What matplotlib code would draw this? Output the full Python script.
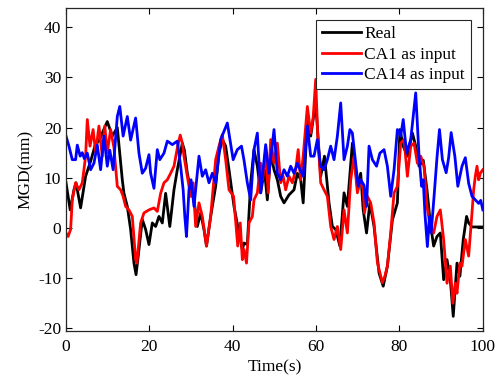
import matplotlib
matplotlib.use("Agg")
from matplotlib import pyplot as plt

plt.rcParams['font.family'] = ['Liberation Serif', 'DejaVu Serif']
plt.rcParams['font.size'] = 12
plt.rcParams['axes.unicode_minus'] = False

# Real
t_real = [0, 1.0, 1.9, 2.4, 3.5, 4.7, 5.9, 7.0, 8.0, 9.0, 9.9, 11.1, 12.3, 13.5, 13.9,
          14.7, 15.5, 16.3, 16.8, 17.5, 18.3, 19.1, 19.9, 20.7, 21.5, 22.3, 23.1, 23.9,
          24.9, 25.9, 26.7, 27.9, 28.4, 29.1, 29.9, 30.7, 31.5, 32.3, 33.1, 33.7, 34.7,
          35.9, 36.7, 37.5, 38.3, 39.1, 40.3, 41.5, 42.3, 42.7, 43.5, 44.3, 45.1, 45.9,
          46.7, 47.6, 48.3, 49.1, 49.9, 50.7, 51.5, 52.3, 53.5, 54.7, 55.5, 56.3, 56.9,
          57.9, 58.7, 59.9, 61.1, 62.0, 63.1, 63.9, 64.7, 65.7, 66.7, 67.5, 68.7, 69.9,
          70.7, 71.3, 72.1, 72.9, 73.9, 75.1, 76.1, 77.1, 78.3, 79.5, 80.1, 80.9, 81.9,
          83.1, 83.9, 84.7, 85.7, 86.6, 87.4, 88.2, 89.0, 89.8, 90.6, 91.4, 92.2, 92.9,
          93.8, 94.5, 95.3, 96.1, 96.6, 97.4, 100]
v_real = [9.0, 3.6, 7.6, 9.0, 4.0, 10.3, 13.3, 16.5, 17.5, 19.5, 21.2, 18.3, 20.0, 9.6, 6.9,
          4.3, -0.3, -7.0, -9.3, -4.3, 1.7, -0.3, -3.3, 1.0, 0.3, 2.3, 1.0, 6.9,
          0.3, 7.6, 11.6, 16.9, 15.5, 10.9, 7.6, 5.6, 0.3, 3.0, -0.3, -3.6, 2.3,
          8.3, 14.9, 17.6, 16.3, 11.6, 4.3, -1.0, -4.3, -3.0, -3.3, 9.0, 15.6, 12.3,
          7.0, 11.6, 5.6, 14.9, 11.6, 9.6, 6.3, 5.0, 6.6, 7.6, 10.9, 9.6, 5.0,
          21.6, 18.3, 25.0, 10.3, 14.3, 5.0, 0.3, -0.3, -3.6, 7.0, 4.3, 16.9, 8.3,
          10.9, 3.6, -1.0, 5.0, 0.3, -9.0, -11.6, -7.6, 1.6, 5.0, 19.6, 16.3, 14.3,
          18.9, 16.3, 12.3, 13.5, 7.6, 1.0, -3.6, -1.7, -1.0, -10.3, -6.3, -10.3, -17.6,
          -7.0, -9.6, -2.3, 2.3, 1.0, 0.2, 0.2]

# CA1 as input
t_ca1 = [0, 0.5, 1.1, 1.5, 2.3, 3.1, 3.9, 4.7, 5.1, 5.75, 6.5, 7.1, 7.9, 8.7, 9.3, 9.9,
         10.7, 11.5, 12.3, 13.1, 13.7, 14.3, 15.1, 15.9, 16.7, 17.0, 17.9, 18.7, 19.9,
         21.1, 21.9, 22.7, 23.5, 24.3, 25.1, 25.9, 26.7, 27.4, 27.9, 28.3, 29.1, 29.9,
         30.5, 31.1, 31.9, 32.7, 33.7, 34.7, 35.9, 36.7, 37.5, 38.3, 39.1, 40.2, 41.2,
         41.8, 42.3, 42.7, 43.3, 43.9, 44.7, 45.1, 45.9, 46.7, 47.2, 47.9, 48.5, 49.1,
         49.9, 50.7, 51.5, 52.1, 52.7, 53.5, 54.3, 55.1, 55.7, 56.3, 56.9, 57.9, 58.7,
         59.3, 59.9, 60.4, 61.1, 61.9, 62.7, 63.5, 64.3, 65.1, 65.9, 66.7, 67.5, 68.3,
         69.1, 69.9, 70.7, 71.3, 71.6, 72.3, 73.1, 73.9, 74.7, 75.9, 76.5, 77.1, 77.9,
         78.7, 79.5, 80.3, 81.1, 81.9, 82.7, 83.5, 84.3, 85.1, 85.9, 86.6, 87.4, 88.2,
         89.0, 89.8, 90.6, 91.4, 92.2, 92.8, 93.4, 93.8, 94.5, 95.0, 95.8, 96.6, 97.4,
         97.8, 98.2, 98.6, 99.0, 99.4, 100]
v_ca1 = [-1.0, -1.7, -0.3, 5.6, 9.0, 7.6, 9.0, 14.3, 21.6, 16.3, 19.6, 15.0, 20.3, 14.3, 20.3, 15.0,
         19.6, 16.0, 8.3, 7.6, 6.3, 4.3, 3.6, 2.3, -6.3, -7.0, 1.0, 3.0, 3.6,
         4.0, 3.3, 6.9, 9.0, 9.6, 10.9, 12.3, 15.9, 18.5, 16.9, 14.3, 10.3, 6.3,
         9.0, 0.3, 5.0, 2.3, -3.6, 2.3, 13.6, 16.3, 18.6, 13.6, 7.6, 6.3, -3.6,
         1.0, -6.3, -4.3, -7.0, 1.0, 2.3, 5.6, 7.0, 12.9, 9.6, 15.6, 7.0, 17.6,
         12.9, 16.9, 9.0, 10.3, 7.6, 10.3, 9.0, 11.6, 15.6, 9.6, 14.3, 24.2, 18.9,
         22.0, 29.6, 18.3, 9.0, 7.6, 6.3, 0.3, -2.3, 0.3, -4.3, 3.6, -1.0, 9.6,
         14.3, 7.0, 9.6, 7.6, 3.0, 6.3, 5.0, 1.0, -6.9, -10.9, -9.6, -7.6, -1.0,
         7.0, 8.3, 16.9, 17.6, 10.3, 16.3, 16.9, 12.9, 14.3, 12.3, 4.3, 0.3, -1.0,
         2.3, 3.6, -2.3, -11.0, -7.6, -15.0, -11.0, -13.0, -7.0, -7.6, -2.3, -5.6, 3.0,
         7.6, 10.3, 12.3, 9.6, 10.9, 11.6]

# CA14 as input
t_ca14 = [0, 0.7, 1.5, 2.3, 2.7, 3.4, 3.9, 4.4, 5.1, 5.9, 6.7, 7.5, 8.3, 9.1, 9.9, 10.5,
          11.3, 12.3, 12.9, 13.7, 14.7, 15.5, 16.7, 17.5, 18.3, 19.1, 19.9, 20.3, 21.1,
          21.9, 22.5, 23.5, 24.3, 25.5, 26.7, 27.5, 28.1, 28.5, 28.9, 29.5, 30.0, 30.7,
          31.9, 32.7, 33.5, 34.3, 35.1, 35.9, 37.1, 38.7, 40.1, 41.1, 42.1, 42.7, 43.5,
          44.3, 45.1, 45.9, 46.7, 47.9, 48.7, 49.9, 50.7, 51.5, 52.3, 53.1, 53.9, 54.7,
          55.5, 56.2, 56.9, 57.9, 58.7, 59.5, 60.3, 61.1, 61.9, 62.7, 63.5, 64.3, 65.1,
          65.9, 66.7, 67.5, 68.1, 68.7, 69.5, 70.1, 70.7, 71.5, 72.1, 72.7, 73.5, 74.5,
          75.3, 76.3, 77.1, 77.9, 78.7, 79.5, 80.3, 80.9, 81.7, 82.7, 83.3, 83.9, 84.7,
          85.3, 85.7, 86.1, 86.7, 87.2, 87.6, 88.3, 89.0, 89.6, 90.3, 91.2, 91.8, 92.4,
          93.3, 94.0, 95.0, 95.8, 96.6, 97.4, 98.2, 99.0, 99.5, 100]
v_ca14 = [18.3, 16.3, 13.6, 13.6, 16.5, 14.3, 15.0, 13.8, 14.9, 11.6, 12.9, 16.5, 11.6, 18.3, 12.3, 15.5,
          11.6, 22.2, 24.2, 18.3, 22.2, 17.5, 21.9, 14.9, 10.9, 11.9, 14.6, 10.9, 7.9,
          15.6, 13.6, 14.9, 17.3, 16.6, 17.3, 12.3, 7.6, 2.3, -1.7, 7.6, 9.6, 4.3,
          14.3, 10.3, 11.6, 9.0, 10.9, 9.0, 17.6, 20.9, 13.6, 15.6, 16.3, 13.5, 9.0,
          5.6, 15.6, 18.9, 7.0, 16.6, 10.9, 19.6, 10.9, 9.6, 11.6, 10.3, 12.3, 10.9,
          12.9, 11.5, 10.3, 20.3, 14.3, 14.3, 17.6, 12.3, 11.6, 13.6, 16.3, 13.6, 18.3,
          24.9, 13.6, 16.3, 19.6, 18.9, 12.9, 8.3, 9.6, 8.5, 4.3, 16.3, 13.6, 12.3,
          14.9, 15.6, 12.3, 6.3, 11.6, 19.6, 18.3, 21.6, 14.9, 17.6, 22.2, 26.9, 14.3,
          8.3, 9.6, 3.0, -3.7, 2.3, -1.0, 6.3, 14.0, 19.6, 13.6, 11.0, 14.0, 19.0,
          14.2, 8.3, 12.3, 14.0, 8.9, 6.3, 5.6, 4.9, 5.5, 3.6]

fig = plt.figure(figsize=(5.04, 3.83), dpi=100)
ax = fig.add_axes([0.131, 0.136, 0.827, 0.843])

ax.plot(t_real, v_real, color='black', lw=2, label='Real')
ax.plot(t_ca1, v_ca1, color='red', lw=2, label='CA1 as input')
ax.plot(t_ca14, v_ca14, color='blue', lw=2, label='CA14 as input')

ax.set_xlim(0, 100)
ax.set_ylim(-20.5, 43.8)
ax.set_xticks([0, 20, 40, 60, 80, 100])
ax.set_yticks([-20, -10, 0, 10, 20, 30, 40])
ax.tick_params(direction='in', top=True, right=True, length=4, width=0.8, labelsize=12.5)
ax.tick_params(axis='x', pad=6)
for s in ax.spines.values():
    s.set_linewidth(0.9)
    s.set_color('#262626')

ax.set_xlabel('Time(s)', fontsize=12.5, labelpad=3)
ax.set_ylabel('MGD(mm)', fontsize=12.5, labelpad=3)

leg = ax.legend(loc='upper right', fancybox=False, framealpha=1, edgecolor='#262626',
                fontsize=12.5, handlelength=2.2, handletextpad=0.2, labelspacing=0.25,
                borderpad=0.35, borderaxespad=0.7)
leg.get_frame().set_linewidth(0.8)

plt.savefig('out.png', dpi=100)
